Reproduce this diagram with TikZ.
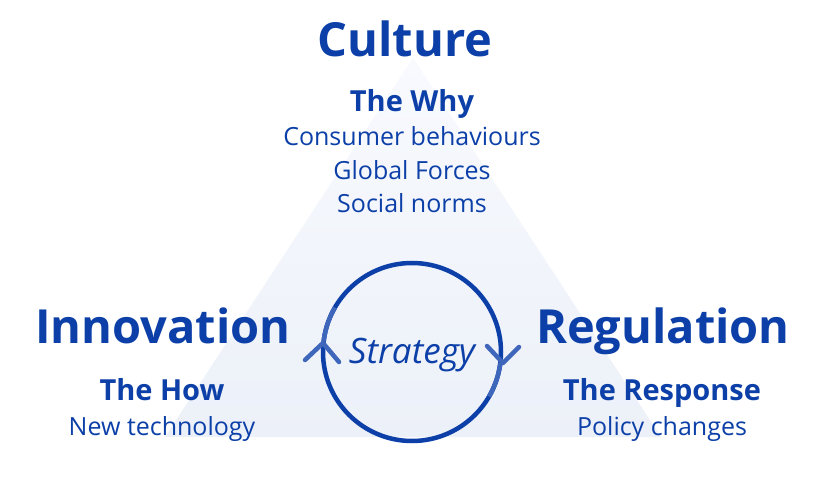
\documentclass[tikz,border=0pt]{standalone}
\usepackage{fontspec}
\usetikzlibrary{calc}
\setmainfont{Open Sans}
\definecolor{ink}{RGB}{12,64,168}
\definecolor{light}{RGB}{62,102,186}
\definecolor{tritop}{RGB}{248,250,254}
\definecolor{tribot}{RGB}{236,240,248}
\begin{document}
\begin{tikzpicture}[x=1pt,y=-1pt,
  title/.style={text=ink,font=\bfseries\fontsize{47}{50}\selectfont,anchor=base,inner sep=0pt},
  sub/.style={text=ink,font=\bfseries\fontsize{29}{30}\selectfont,anchor=base,inner sep=0pt},
  item/.style={text=ink,font=\fontsize{25}{28}\selectfont,anchor=base,inner sep=0pt},
  ring/.style={draw=ink,line width=4.5pt},
  chev/.style={draw=light,line width=4.5pt,line cap=round,line join=round}]
\useasboundingbox (0,0) rectangle (825,481);
\fill[white] (0,0) rectangle (825,481);
% triangle
\coordinate (apex) at (413,58);
\coordinate (bl) at (165,437);
\coordinate (br) at (661,437);
\shade[top color=tritop,bottom color=tribot] (apex) -- (br) -- (bl) -- cycle;
% circle
\coordinate (c) at (412,352);
\draw[ring] (c) circle[radius=89];
\draw[draw=light,line width=4.5pt] ($(c)+(187:89)$) arc[start angle=187,end angle=210,radius=89];
\draw[draw=light,line width=4.5pt] ($(c)+(7:89)$) arc[start angle=7,end angle=30,radius=89];
\coordinate (la) at (305,360);
\coordinate (lb) at (323,343);
\coordinate (lc) at (339,362);
\draw[chev] (la) -- (lb) -- (lc);
\coordinate (ra) at (487,346);
\coordinate (rb) at (503,363);
\coordinate (rc) at (519,347);
\draw[chev] (ra) -- (rb) -- (rc);
\node[text=ink,font=\itshape\fontsize{35}{38}\selectfont,anchor=base,inner sep=0pt] (strat) at (412,363) {Strategy};
% top
\node[title] (culture) at (405,57) {Culture};
\node[sub] (why) at (412,112) {The Why};
\node[item] (cb) at (412,146) {Consumer behaviours};
\node[item] (gf) at (412,180) {Global Forces};
\node[item] (sn) at (412,213) {Social norms};
% left
\node[title] (inno) at (163,343) {Innovation};
\node[sub] (how) at (162,400) {The How};
\node[item] (nt) at (162,435) {New technology};
% right
\node[title] (reg) at (663,343) {Regulation};
\node[sub] (resp) at (662,400) {The Response};
\node[item] (pc) at (662,435) {Policy changes};
\end{tikzpicture}
\end{document}
